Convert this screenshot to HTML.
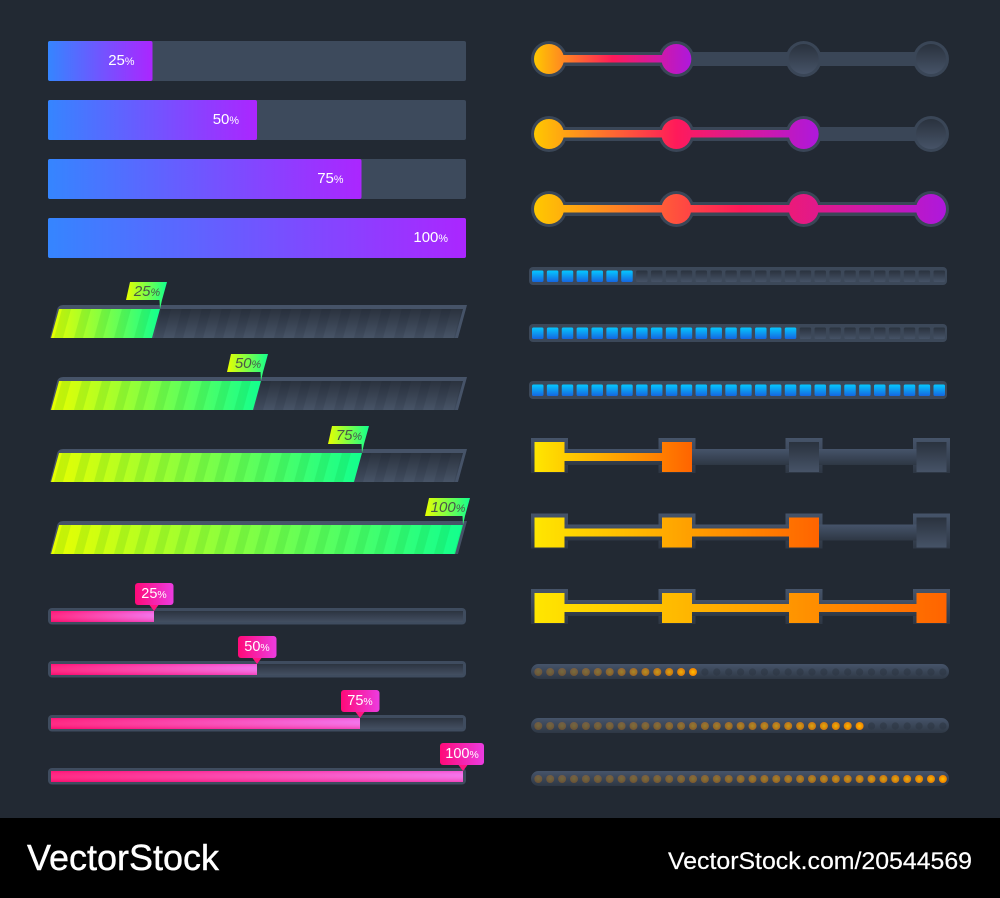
<!DOCTYPE html>
<html lang="en">
<head>
<meta charset="utf-8">
<title>Progress bars UI kit</title>
<style>
html,body{margin:0;padding:0;background:#222933;width:1000px;height:898px;overflow:hidden}
svg{display:block;font-family:"Liberation Sans",sans-serif}
</style>
</head>
<body>
<svg id="chart" xmlns="http://www.w3.org/2000/svg" width="1000" height="898" viewBox="0 0 1000 898">
<defs id="defs">
<linearGradient id="track-v" x1="0" y1="0" x2="0" y2="1"><stop offset="0" stop-color="#2c3440"/><stop offset="1" stop-color="#434f62"/></linearGradient>
<linearGradient id="green-track-v" x1="0" y1="0" x2="0" y2="1"><stop offset="0" stop-color="#2a323e"/><stop offset="1" stop-color="#475467"/></linearGradient>
<linearGradient id="frame-v" x1="0" y1="0" x2="0" y2="1"><stop offset="0" stop-color="#46546a"/><stop offset="1" stop-color="#2e3744"/></linearGradient>
<linearGradient id="blue-h" x1="0" y1="0" x2="1" y2="0"><stop offset="0" stop-color="#3585ff"/><stop offset="1" stop-color="#ab26ff"/></linearGradient>
<linearGradient id="green-h" x1="0" y1="0" x2="1" y2="0"><stop offset="0" stop-color="#e8ff00"/><stop offset="1" stop-color="#12ff8e"/></linearGradient>
<linearGradient id="pink-h" x1="0" y1="0" x2="1" y2="0"><stop offset="0" stop-color="#ff0f74"/><stop offset="1" stop-color="#f264ea"/></linearGradient>
<linearGradient id="pink-tag" x1="0" y1="0" x2="1" y2="0"><stop offset="0" stop-color="#ff0a78"/><stop offset="1" stop-color="#ec3ce0"/></linearGradient>
<linearGradient id="pink-shade" x1="0" y1="0" x2="0" y2="1"><stop offset="0" stop-color="#ff0f74" stop-opacity=".2"/><stop offset=".35" stop-color="#ffffff" stop-opacity=".1"/><stop offset="1" stop-color="#f00060" stop-opacity=".35"/></linearGradient>
<linearGradient id="cell-on" x1="0" y1="0" x2="0" y2="1"><stop offset="0" stop-color="#05c8ff"/><stop offset="1" stop-color="#1566e0"/></linearGradient>
<linearGradient id="cell-off" x1="0" y1="0" x2="0" y2="1"><stop offset="0" stop-color="#2a323e"/><stop offset="1" stop-color="#465367"/></linearGradient>
<radialGradient id="dot-on"><stop offset="0" stop-color="#ffc000"/><stop offset="1" stop-color="#ef7f00"/></radialGradient>
</defs>
<rect x="0" y="0" width="1000" height="818" fill="#222933"/>
<g id="plot"></g>
<rect x="0" y="818" width="1000" height="80" fill="#000"/>
<text x="27" y="870" font-size="36" fill="#fff" stroke="#fff" stroke-width=".4" textLength="192" lengthAdjust="spacingAndGlyphs">VectorStock</text>
<text x="668" y="869" font-size="24" fill="#fff" stroke="#fff" stroke-width=".2" textLength="304" lengthAdjust="spacingAndGlyphs">VectorStock.com/20544569</text>
</svg>
<script>
const blueValues = [25, 50, 75, 100];
const greenValues = [25, 50, 75, 100];
const pinkValues = [25, 50, 75, 100];
const circleStepsDone = [2, 3, 4];
const squareStepsDone = [2, 3, 4];
const stepCount = 4;
const cellsFilled = [7, 18, 28];
const cellTotal = 28;
const dotsFilled = [14, 28, 35];
const dotTotal = 35;

const NS = 'http://www.w3.org/2000/svg';
const plot = document.getElementById('plot');
const defs = document.getElementById('defs');
function mk(tag, attrs, parent) {
  const e = document.createElementNS(NS, tag);
  for (const k in attrs) e.setAttribute(k, attrs[k]);
  (parent || plot).appendChild(e);
  return e;
}
function percentLabel(x, y, anchor, size, color, value, parent, style) {
  const t = mk('text', {x: x, y: y, 'text-anchor': anchor, 'font-size': size, fill: color, 'font-style': style || 'normal'}, parent);
  
  
  t.textContent = value;
  const s = mk('tspan', {'font-size': size * 0.72}, t);
  
  
  s.textContent = '%';
  return t;
}
function spanGradient(id, x1, x2, stops) {
  const g = mk('linearGradient', {id: id, gradientUnits: 'userSpaceOnUse', x1: x1, y1: 0, x2: x2, y2: 0}, defs);
  stops.forEach(function (s) { mk('stop', {offset: s[0], 'stop-color': s[1]}, g); });
}

/* blue flat bars */
const blueX = function (v) { return 48 + 418 * v / 100; };
blueValues.forEach(function (v, i) {
  const y = 41 + i * 59;
  const g = mk('g', {});
  
  
  const tr = mk('rect', {x: 48, y: y, width: 418, height: 40, rx: 2, fill: '#3d4a5c'}, g);
  
  
  const f = mk('rect', {x: 48, y: y, width: blueX(v) - 48, height: 40, rx: 2, fill: 'url(#blue-h)'}, g);
  
  
  percentLabel(blueX(v) - 18, y + 24, 'end', 15, '#fff', v, g);
});

/* green slanted bars */
const greenX = function (v) { return 59 + 404 * v / 100; };
const SL = 8;
greenValues.forEach(function (v, i) {
  const y = 305 + i * 72;
  const bottom = y + 33;
  const g = mk('g', {});
  
  
  const outer = mk('path', {d: 'M50 ' + bottom + 'L57 ' + (y + 5) + 'Q58 ' + y + ' 63 ' + y + 'L467 ' + y + 'L458 ' + bottom + 'Z', fill: '#465368'}, g);
  
  
  const innerPts = '51,' + bottom + ' 59,' + (y + 4) + ' 463,' + (y + 4) + ' 455,' + bottom;
  const inner = mk('polygon', {points: innerPts, fill: 'url(#green-track-v)'}, g);
  
  
  const fx = greenX(v);
  const fill = mk('polygon', {points: '51,' + bottom + ' 59,' + (y + 4) + ' ' + fx + ',' + (y + 4) + ' ' + (fx - SL) + ',' + bottom, fill: 'url(#green-h)'}, g);
  
  
  const clip = mk('clipPath', {id: 'green-clip-' + i}, defs);
  mk('polygon', {points: innerPts}, clip);
  const st = mk('g', {'clip-path': 'url(#green-clip-' + i + ')'}, g);
  
  
  for (let k = 0; k < 24; k++) {
    const sx = 62 + k * 20;
    const s = mk('polygon', {points: sx + ',' + (y + 4) + ' ' + (sx + 9) + ',' + (y + 4) + ' ' + (sx + 1) + ',' + bottom + ' ' + (sx - 8) + ',' + bottom, fill: sx < fx ? '#089a20' : '#1a212b', opacity: sx < fx ? 0.13 : 0.13}, st);
    
    
  }
  const tagLeft = v >= 100 ? 37 : 33;
  const tag = mk('polygon', {points: (fx - tagLeft - 1) + ',' + (y - 5) + ' ' + (fx - tagLeft + 3) + ',' + (y - 23) + ' ' + (fx + 7) + ',' + (y - 23) + ' ' + (fx + 2) + ',' + (y - 5) + ' ' + fx + ',' + (y + 4) + ' ' + (fx - 0.5) + ',' + (y - 5), fill: 'url(#green-h)'}, g);
  
  
  percentLabel(v >= 100 ? fx - 15 : fx - 13, y - 9, 'middle', 15, '#4a5848', v, g, 'italic');
});

/* pink thin bars */
const pinkX = function (v) { return 51 + 412 * v / 100; };
pinkValues.forEach(function (v, i) {
  const y = Math.round(608 + i * 53.4);
  const g = mk('g', {});
  
  
  const o = mk('rect', {x: 48, y: y, width: 418, height: 16.5, rx: 4, fill: '#3f4c5f'}, g);
  
  
  const t = mk('rect', {x: 51, y: y + 3, width: 412, height: 11, fill: 'url(#track-v)'}, g);
  
  
  const fx = pinkX(v);
  const f = mk('rect', {x: 51, y: y + 3, width: fx - 51, height: 11, fill: 'url(#pink-h)'}, g);
  
  
  const sh = mk('rect', {x: 51, y: y + 3, width: fx - 51, height: 11, fill: 'url(#pink-shade)'}, g);
  
  
  const p = mk('path', {d: 'M' + (fx - 6) + ' ' + (y - 5) + 'L' + (fx + 6) + ' ' + (y - 5) + 'L' + fx + ' ' + (y + 3) + 'Z', fill: '#ff1580'}, g);
  
  
  const wide = v >= 100;
  const b = mk('rect', {x: wide ? fx - 23 : fx - 19, y: y - 25, width: wide ? 44 : 38.5, height: 22, rx: 3, fill: 'url(#pink-tag)'}, g);
  
  
  percentLabel(wide ? fx - 1 : fx, y - 10, 'middle', 14.5, '#fff', v, g);
});

/* circular step sliders */
const stepX = function (s) { return 549 + s * (931 - 549) / (stepCount - 1); };
circleStepsDone.forEach(function (done, i) {
  const cy = 59 + i * 75;
  const g = mk('g', {});
  
  
  const id = 'circle-grad-' + i;
  spanGradient(id, 534, stepX(done - 1) + 15, [[0, '#ffc800'], [0.5, '#ff1a5a'], [1, '#ae18dc']]);
  for (let s = 0; s < stepCount; s++) {
    const ring = mk('circle', {cx: stepX(s), cy: cy, r: 18, fill: '#3a4657'}, g);
    
    
  }
  const tr = mk('rect', {x: 549, y: cy - 7, width: 382, height: 14, fill: '#3a4657'}, g);
  
  
  const ln = mk('rect', {x: 549, y: cy - 4, width: stepX(done - 1) - 549, height: 7.5, fill: 'url(#' + id + ')'}, g);
  
  
  for (let s = 0; s < stepCount; s++) {
    const n = mk('circle', {cx: stepX(s), cy: cy, r: 15, fill: s < done ? 'url(#' + id + ')' : 'url(#cell-off)'}, g);
    
    
  }
});

/* blue segmented bars */
cellsFilled.forEach(function (filled, i) {
  const y = 267 + i * 57;
  const g = mk('g', {});
  
  
  const o = mk('rect', {x: 529, y: y, width: 418, height: 18, rx: 4, fill: '#3c4859'}, g);
  
  
  for (let c = 0; c < cellTotal; c++) {
    const on = c < filled;
    const r = mk('rect', {x: 532 + c * 14.87, y: y + 3.5, width: 11.5, height: 11.5, rx: 1.5, fill: on ? 'url(#cell-on)' : 'url(#cell-off)'}, g);
    
    
  }
});

/* square step sliders */
squareStepsDone.forEach(function (done, i) {
  const cy = [457, 532.5, 608][i];
  const g = mk('g', {});
  
  
  const id = 'square-grad-' + i;
  const sx = [549.5, 677, 804, 931.5];
  spanGradient(id, 535, sx[done - 1] + 15, [[0, '#ffe600'], [1, '#ff6400']]);
  sx.forEach(function (x) {
    const fr = mk('rect', {x: x - 18.5, y: cy - 19, width: 37, height: 35, fill: 'url(#frame-v)'}, g);
    
    
  });
  const tr = mk('rect', {x: 549, y: cy - 8, width: 382, height: 16, fill: 'url(#frame-v)'}, g);
  
  
  const ln = mk('rect', {x: 549, y: cy - 4, width: sx[done - 1] - 549, height: 8, fill: 'url(#' + id + ')'}, g);
  
  
  sx.forEach(function (x, s) {
    const n = mk('rect', {x: x - 15, y: cy - 15, width: 30, height: 30, fill: s < done ? 'url(#' + id + ')' : 'url(#cell-off)'}, g);
    
    
  });
});

/* dotted bars */
dotsFilled.forEach(function (filled, i) {
  const y = [664, 718, 771][i];
  const g = mk('g', {});
  
  
  const o = mk('rect', {x: 531, y: y, width: 418, height: 15, rx: 7.5, fill: 'url(#frame-v)'}, g);
  
  
  for (let d = 0; d < dotTotal; d++) {
    const on = d < filled;
    const t = d / Math.max(filled - 1, 1);
    const c = mk('circle', {cx: 538.3 + d * 11.9, cy: y + 8, r: on ? 4 : 3.6, fill: on ? 'url(#dot-on)' : '#2b3441', opacity: on ? 0.28 + 0.72 * t * t : 0.55}, g);
    
    
  }
});
</script>
</body>
</html>
